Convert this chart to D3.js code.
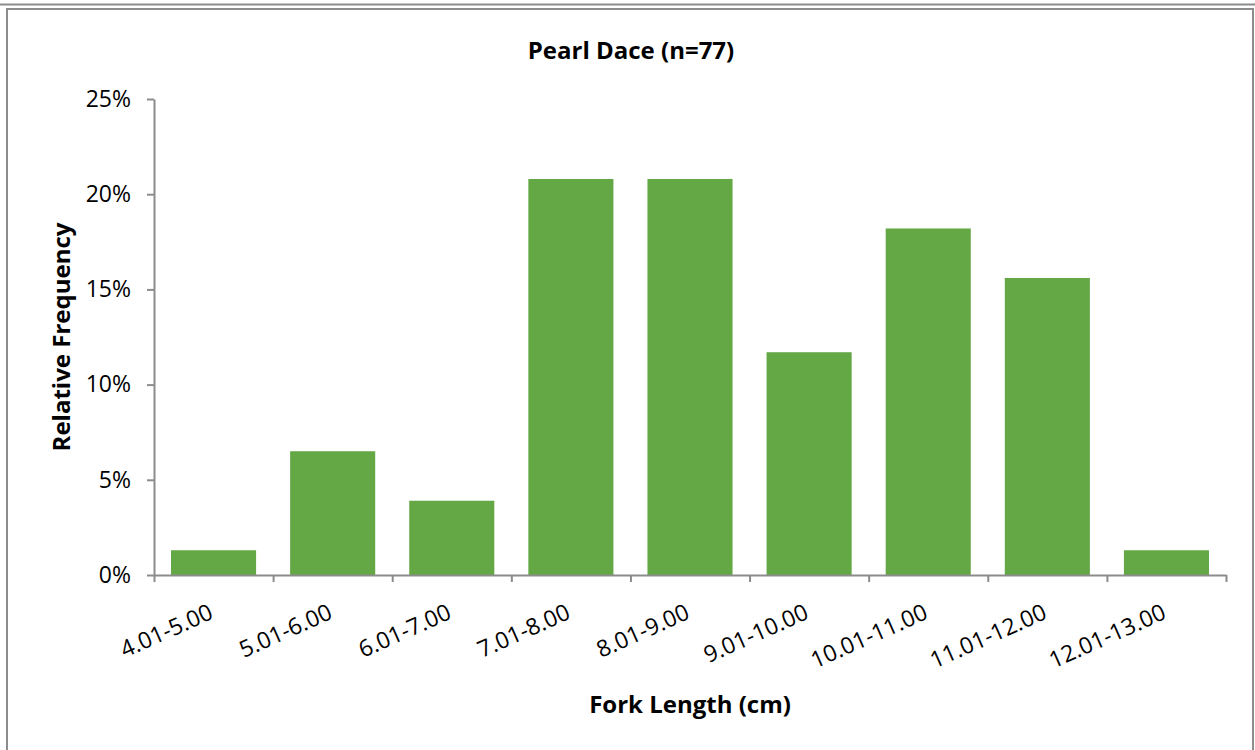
<!DOCTYPE html>
<html>
<head>
<meta charset="utf-8">
<script src="https://cdn.jsdelivr.net/npm/d3@7"></script>
<style>
  body { margin: 0; background: #fff; }
  text { font-family: "Open Sans", "Noto Sans", sans-serif; fill: #000; }
  .axis path, .axis line { stroke: #8c8c8c; stroke-width: 2; }
</style>
</head>
<body>
<div id="chart"></div>
<script>
// Data
const lengthBins = ["4.01-5.00", "5.01-6.00", "6.01-7.00", "7.01-8.00", "8.01-9.00",
  "9.01-10.00", "10.01-11.00", "11.01-12.00", "12.01-13.00"]
const relFrequency = [0.013, 0.065, 0.039, 0.208, 0.208, 0.117, 0.182, 0.156, 0.013]
const yTicks = [0, 0.05, 0.10, 0.15, 0.20, 0.25]
const chartTitle = "Pearl Dace (n=77)"
const xTitle = "Fork Length (cm)"
const yTitle = "Relative Frequency"

// Dimensions
const width = 1255
const height = 750
const plotLeft = 154
const plotRight = 1226
const plotTop = 99
const plotBottom = 575
const labelAngle = -24
const tickFont = "23px"
const titleFont = "24px"

const svg = d3.select("#chart")
  .append("svg")
    .attr("width", width)
    .attr("height", height)

// frame lines
svg.append("line")
    .attr("x1", 0).attr("x2", width)
    .attr("y1", 4.5).attr("y2", 4.5)
    .attr("stroke", "#8c8c8c").attr("stroke-width", 2)
svg.append("rect")
    .attr("x", 7).attr("y", 9)
    .attr("width", 1246).attr("height", 760)
    .attr("fill", "none")
    .attr("stroke", "#8c8c8c").attr("stroke-width", 2)

const gap = 0.4 / 1.4
const x = d3.scaleBand()
    .domain(lengthBins)
    .range([plotLeft, plotRight])
    .paddingInner(gap)
    .paddingOuter(gap / 2)

const xEdges = d3.scaleLinear()
    .domain([0, lengthBins.length])
    .range([plotLeft, plotRight])

const y = d3.scaleLinear()
    .domain([0, 0.25])
    .range([plotBottom, plotTop])

svg.selectAll(".bar")
    .data(relFrequency)
    .enter().append("rect")
    .attr("class", "bar")
    .attr("x", function(d, i) { return x(lengthBins[i]) })
    .attr("y", function(d) { return y(d) })
    .attr("width", x.bandwidth())
    .attr("height", function(d) { return plotBottom - y(d) })
    .attr("fill", "#63a845")

// y axis
const yAxis = svg.append("g")
    .attr("class", "axis")
    .attr("transform", "translate(" + plotLeft + ",0)")
    .call(d3.axisLeft(y)
      .tickValues(yTicks)
      .tickFormat(d3.format(".0%"))
      .tickSize(7)
      .tickSizeOuter(0)
      .tickPadding(16))
yAxis.selectAll("text")
    .style("font-size", tickFont)
    .attr("fill", "#000")

// x axis: ticks at the category edges
const xAxis = svg.append("g")
    .attr("class", "axis")
    .attr("transform", "translate(0," + plotBottom + ")")
    .call(d3.axisBottom(xEdges)
      .tickValues(d3.range(lengthBins.length + 1))
      .tickFormat("")
      .tickSize(7)
      .tickSizeOuter(0))

svg.selectAll(".x-label")
    .data(lengthBins)
    .enter().append("text")
    .attr("class", "x-label")
    .attr("text-anchor", "end")
    .attr("transform", function(d) {
      return "translate(" + (x(d) + x.bandwidth() / 2 + 1) + "," + 618 + ") rotate(" + labelAngle + ")"
    })
    .style("font-size", tickFont)
    .text(function(d) { return d })

// titles
svg.append("text")
    .attr("x", 631)
    .attr("y", 59)
    .attr("text-anchor", "middle")
    .style("font-size", titleFont)
    .style("font-weight", "bold")
    .text(chartTitle)

svg.append("text")
    .attr("x", (plotLeft + plotRight) / 2)
    .attr("y", 713)
    .attr("text-anchor", "middle")
    .style("font-size", titleFont)
    .style("font-weight", "bold")
    .text(xTitle)

svg.append("text")
    .attr("transform", "translate(70," + (plotTop + plotBottom) / 2 + ") rotate(-90)")
    .attr("text-anchor", "middle")
    .style("font-size", titleFont)
    .style("font-weight", "bold")
    .text(yTitle)
</script>
</body>
</html>
